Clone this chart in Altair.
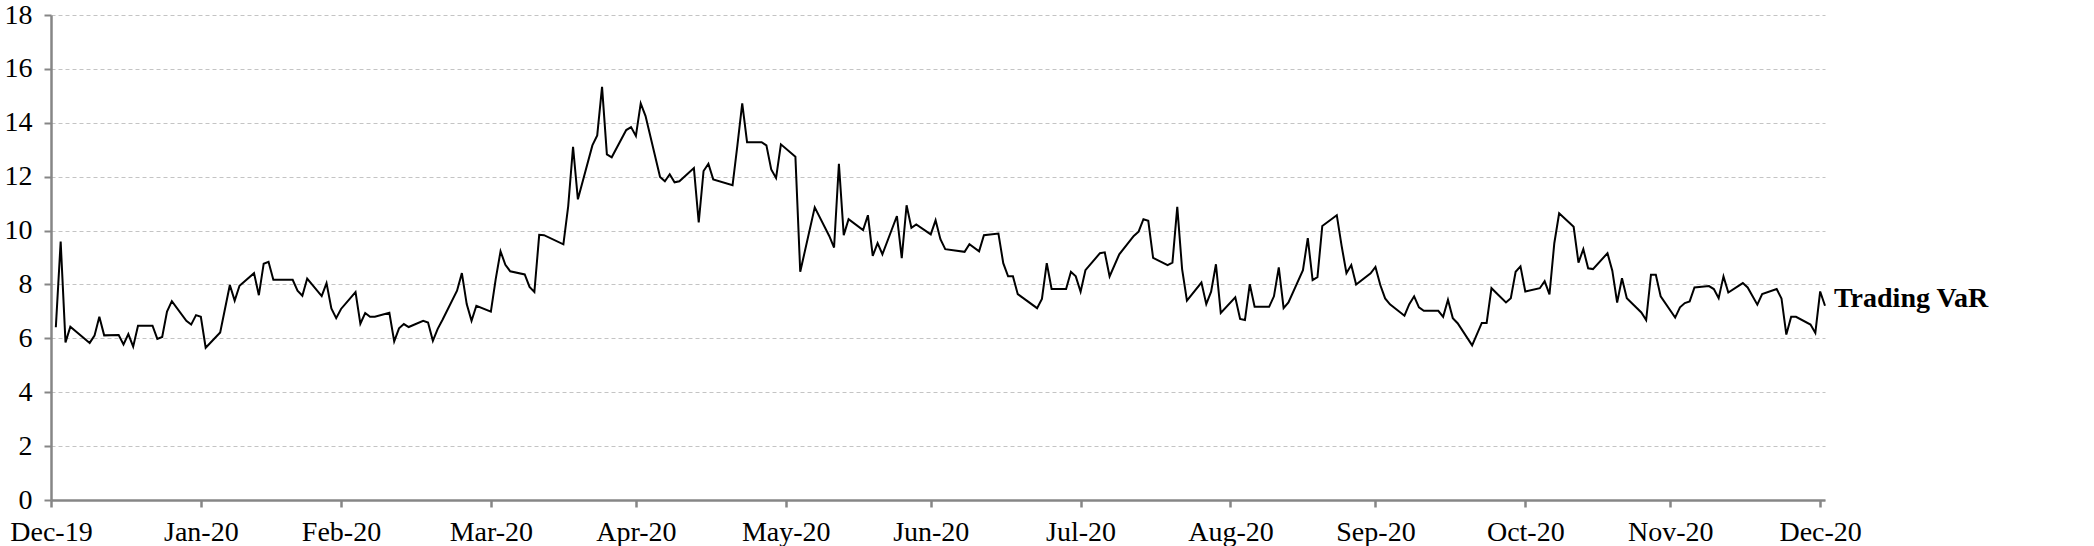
import altair as alt
import pandas as pd

# Day offsets counted from 2019-12-31 and Trading VaR values
day = [1, 2, 3, 4, 8, 9, 10, 11, 14, 15, 16, 17, 18, 21, 22, 23, 24, 25, 28, 29, 30, 31, 32, 35,
       37, 38, 39, 42, 43, 44, 45, 46, 50, 51, 52, 53, 56, 57, 58, 59, 60, 63, 64, 65, 66, 67,
       70, 71, 72, 73, 74, 77, 78, 79, 80, 81, 84, 85, 86, 87, 88, 91, 92, 93, 94, 95, 98, 99,
       100, 101, 102, 106, 107, 108, 109, 112, 113, 114, 115, 116, 119, 120, 121, 122, 123,
       126, 127, 128, 129, 130, 133, 134, 135, 136, 137, 141, 142, 143, 144, 147, 148, 149,
       150, 151, 154, 155, 158, 161, 162, 163, 164, 165, 168, 169, 170, 171, 172, 175, 176,
       177, 178, 179, 182, 183, 184, 185, 189, 190, 192, 193, 196, 197, 198, 199, 200, 204,
       205, 206, 207, 210, 211, 212, 213, 214, 217, 218, 219, 221, 224, 225, 226, 227, 228,
       231, 232, 233, 234, 235, 238, 239, 240, 241, 242, 245, 246, 247, 248, 249, 252, 253,
       254, 255, 256, 259, 260, 261, 262, 263, 266, 267, 268, 269, 270, 273, 274, 275, 276,
       277, 280, 281, 282, 283, 284, 287, 288, 289, 290, 291, 294, 296, 297, 298, 301, 302,
       303, 304, 305, 308, 309, 310, 311, 312, 315, 316, 317, 318, 319, 322, 323, 324, 325,
       326, 329, 330, 331, 332, 333, 336, 337, 338, 339, 340, 343, 344, 345, 346, 347, 350,
       351, 353, 354, 357, 358, 359, 360, 361, 364, 365, 366, 367]

var = [6.41, 9.59, 5.85, 6.43, 5.83, 6.10, 6.80, 6.11, 6.12, 5.77, 6.16, 5.69, 6.47, 6.47, 5.98,
       6.05, 6.99, 7.38, 6.65, 6.51, 6.86, 6.80, 5.65, 6.22,
       7.98, 7.40, 7.95, 8.42, 7.60, 8.77, 8.84, 8.17, 8.17, 7.77, 7.58, 8.22, 7.57, 8.05, 7.11,
       6.75, 7.09, 7.72, 6.54, 6.94, 6.80, 6.80,
       6.95, 5.89, 6.37, 6.53, 6.42, 6.65, 6.59, 5.91, 6.35, 6.69, 7.77, 8.42, 7.27, 6.65, 7.21,
       6.99, 8.20, 9.23, 8.73, 8.49, 8.37, 7.91,
       7.72, 9.84, 9.83, 9.49, 10.91, 13.11, 11.16, 13.16, 13.53, 15.33, 12.83, 12.72, 13.73,
       13.84, 13.51, 14.72, 14.25,
       11.99, 11.83, 12.09, 11.79, 11.83, 12.32, 10.30, 12.21, 12.48, 11.90, 11.68, 13.16, 14.72,
       13.28, 13.28, 13.16, 12.27,
       11.95, 13.20, 12.74, 8.47, 10.86, 9.80, 9.37, 12.48, 9.83, 10.42, 10.02, 10.57, 9.06,
       9.53, 9.12, 10.54, 8.98,
       10.94, 10.10, 10.23, 9.86, 10.38, 9.68, 9.31, 9.21, 9.49, 9.23, 9.83, 9.89, 8.79, 8.30,
       8.30, 7.64, 7.12,
       7.46, 8.79, 7.83, 7.83, 8.47, 8.30, 7.73, 8.53, 9.16, 9.19, 8.30, 9.12, 9.80, 9.96, 10.42,
       10.36, 8.99,
       8.72, 8.81, 10.88, 8.57, 7.40, 8.07, 7.27, 7.73, 8.75, 6.94, 7.52, 6.72, 6.68, 8.01, 7.17,
       7.17, 7.56,
       8.63, 7.12, 7.33, 8.53, 9.72, 8.16, 8.27, 10.17, 10.57, 9.43, 8.42, 8.72, 8.00, 8.41, 8.65,
       7.98, 7.48,
       7.26, 6.84, 7.27, 7.56, 7.15, 7.02, 7.02, 6.80, 7.43, 6.75, 6.56, 5.74, 6.57, 6.57, 7.86,
       7.33, 7.49,
       8.47, 8.67, 7.74, 7.86, 8.12, 7.63, 9.53, 10.64, 10.14, 8.81, 9.31, 8.60, 8.57, 9.16, 8.51,
       7.33, 8.23,
       7.49, 6.96, 6.68, 8.36, 8.36, 7.56, 6.77, 7.15, 7.31, 7.37, 7.89, 7.94, 7.83, 7.49, 8.30,
       7.70, 8.05,
       7.89, 7.25, 7.64, 7.83, 7.48, 6.14, 6.80, 6.80, 6.51, 6.20, 7.74, 7.21]

series_label = "Trading VaR"
y_ticks = [0, 2, 4, 6, 8, 10, 12, 14, 16, 18]
# month-end tick positions (year, month, day)
x_ticks = [(2019, 12, 31), (2020, 1, 31), (2020, 2, 29), (2020, 3, 31), (2020, 4, 30),
           (2020, 5, 31), (2020, 6, 30), (2020, 7, 31), (2020, 8, 31), (2020, 9, 30),
           (2020, 10, 31), (2020, 11, 30), (2020, 12, 31)]

base = pd.Timestamp("2019-12-31")
df = pd.DataFrame({
    "date": [(base + pd.Timedelta(days=d)).strftime("%Y-%m-%d") for d in day],
    "var": var,
})
label_df = pd.DataFrame({"date": [df["date"].iloc[-1]], "var": [var[-1]], "label": [series_label]})

FONT = "Liberation Serif"
FS = 28

x_scale = alt.Scale(
    type="utc",
    domain=[alt.DateTime(year=2019, month=12, date=31, utc=True),
            alt.DateTime(year=2021, month=1, date=1, utc=True)],
)
y_scale = alt.Scale(domain=[0, 18], nice=False)

x_axis = alt.Axis(
    values=[alt.DateTime(year=y, month=m, date=d, utc=True) for (y, m, d) in x_ticks],
    labelExpr="utcFormat(datum.value, '%b-%y')", grid=False, title=None,
    domainColor="#868686", domainWidth=2.5, tickColor="#868686", tickWidth=2.5, tickSize=7,
    labelFont=FONT, labelFontSize=FS, labelColor="black", labelPadding=11, labelOverlap=False,
    labelFlush=False,
)
y_axis = alt.Axis(
    values=y_ticks, grid=True, gridDash=[4, 3], gridColor="#c4c4c4", gridWidth=1, title=None,
    domainColor="#868686", domainWidth=2.5, tickColor="#868686", tickWidth=2, tickSize=7,
    labelFont=FONT, labelFontSize=FS, labelColor="black", labelPadding=12,
)

line = alt.Chart(df).mark_line(color="black", strokeWidth=2).encode(
    x=alt.X("date:T", scale=x_scale, axis=x_axis),
    y=alt.Y("var:Q", scale=y_scale, axis=y_axis),
)

text = alt.Chart(label_df).mark_text(
    align="left", baseline="alphabetic", dx=9, dy=1, font=FONT, fontSize=FS,
    fontWeight="bold", color="black",
).encode(
    x=alt.X("date:T", scale=x_scale),
    y=alt.Y("var:Q", scale=y_scale),
    text="label:N",
)

chart = alt.layer(line, text).properties(
    width=1774, height=485,
    padding={"left": 51, "top": 15, "right": 269, "bottom": 46},
    autosize=alt.AutoSizeParams(type="none"),
    background="white",
).configure_view(stroke=None)

chart.save("out.html", embed_options={"renderer": "svg", "actions": False})
